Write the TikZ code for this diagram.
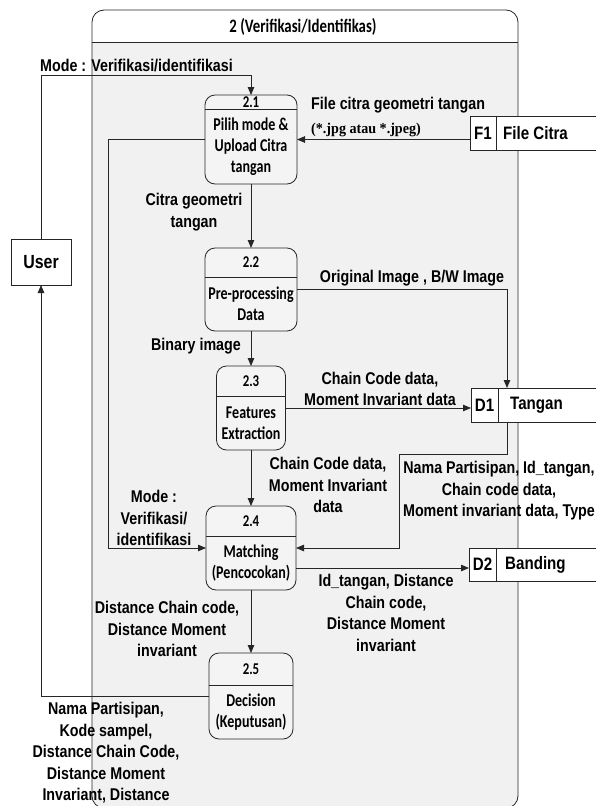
\documentclass[tikz,border=0pt]{standalone}
\usepackage{fontspec}
\setmainfont{Liberation Sans}
\newfontfamily\calfont[FakeStretch=0.78]{Carlito}
\newfontfamily\lblfont[FakeStretch=0.84]{Liberation Sans}
\newfontfamily\serifpart[FakeStretch=0.94]{Liberation Serif}
\usetikzlibrary{arrows.meta, positioning}
\definecolor{boxgray}{HTML}{F1F1F1}
\definecolor{procgray}{HTML}{F4F4F4}

\begin{document}
\begin{tikzpicture}[
    x=1pt, y=-1pt,
    line/.style={line width=0.8pt, draw=black!85},
    proc/.style={line, rounded corners=10pt, fill=procgray, inner sep=0pt, outer sep=0pt},
    num/.style={font=\calfont\bfseries\fontsize{16.5}{17}\selectfont, inner sep=0pt},
    ptext/.style={align=center, inner sep=0pt, font=\calfont\bfseries\fontsize{18}{21}\selectfont},
    store/.style={line, fill=white, minimum width=135pt, anchor=north west, inner sep=0pt, outer sep=0pt},
    stext/.style={font=\lblfont\bfseries\fontsize{18}{20}\selectfont, inner sep=0pt},
    lbl/.style={align=center, inner sep=0pt, font=\lblfont\bfseries\fontsize{17}{21.5}\selectfont},
    flow/.style={line, -{Triangle[length=8pt,width=6.5pt]}}
]
\useasboundingbox (0,0) rectangle (595,806);

% --- Process box 2 ---
\begin{scope}
\clip[rounded corners=12pt] (92,10) rectangle (518,808);
\fill[boxgray] (92,10) rectangle (518,808);
\fill[white] (92,10) rectangle (518,42);
\end{scope}
\draw[line, rounded corners=12pt] (92,10) rectangle (518,808);
\draw[line] (92,42) -- (518,42);
\node[font=\calfont\bfseries\fontsize{19}{20}\selectfont] (title) at (303,27) {2 (Verifikasi/Identifikas)};

% --- Sub-processes ---
\node[proc, minimum width=92pt, minimum height=89pt] (p21) at (251,139.5) {};
\node[proc, minimum width=92pt, minimum height=83pt, below=64pt of p21] (p22) {};
\node[proc, minimum width=69pt, minimum height=84pt, below=35pt of p22] (p23) {};
\node[proc, minimum width=90pt, minimum height=84pt, below=56pt of p23] (p24) {};
\node[proc, minimum width=84pt, minimum height=86pt, below=63pt of p24] (p25) {};

\draw[line] ([yshift=-14pt]p21.north west) -- ([yshift=-14pt]p21.north east);
\draw[line] ([yshift=-29pt]p22.north west) -- ([yshift=-29pt]p22.north east);
\draw[line] ([yshift=-30pt]p23.north west) -- ([yshift=-30pt]p23.north east);
\draw[line] ([yshift=-30pt]p24.north west) -- ([yshift=-30pt]p24.north east);
\draw[line] ([yshift=-32pt]p25.north west) -- ([yshift=-32pt]p25.north east);

\node[num] (n21) at ([yshift=-7pt]p21.north) {2.1};
\node[num] (n22) at ([yshift=-14.5pt]p22.north) {2.2};
\node[num] (n23) at ([yshift=-15pt]p23.north) {2.3};
\node[num] (n24) at ([yshift=-15pt]p24.north) {2.4};
\node[num] (n25) at ([yshift=-16pt]p25.north) {2.5};

\node[ptext] (t21) at ([yshift=37.5pt]p21.south) {Pilih mode \&\\Upload Citra\\tangan};
\node[ptext] (t22) at ([yshift=27pt]p22.south) {Pre-processing\\Data};
\node[ptext] (t23) at ([yshift=27pt]p23.south) {Features\\Extraction};
\node[ptext] (t24) at ([yshift=27pt]p24.south) {Matching\\(Pencocokan)};
\node[ptext] (t25) at ([yshift=27pt]p25.south) {Decision\\(Keputusan)};

% --- External entity and data stores ---
\node[line, fill=white, minimum width=60pt, minimum height=46pt, outer sep=0pt,
      font=\lblfont\bfseries\fontsize{19}{20}\selectfont] (user) at (41,262) {User};

\node[store, minimum height=34pt] (f1) at (470,116) {};
\node[store, minimum height=34pt] (d1) at (471,388) {};
\node[store, minimum height=33pt] (d2) at (469,548) {};
\draw[line] ([xshift=26pt]f1.north west) -- ([xshift=26pt]f1.south west);
\draw[line] ([xshift=27pt]d1.north west) -- ([xshift=27pt]d1.south west);
\draw[line] ([xshift=27pt]d2.north west) -- ([xshift=27pt]d2.south west);
\node[stext] (f1id) at ([xshift=13pt]f1.west) {F1};
\node[stext, anchor=west] (f1nm) at ([xshift=33pt]f1.west) {File Citra};
\node[stext] (d1id) at ([xshift=13.5pt]d1.west) {D1};
\node[stext, anchor=west] (d1nm) at ([xshift=39pt]d1.west) {Tangan};
\node[stext] (d2id) at ([xshift=13.5pt]d2.west) {D2};
\node[stext, anchor=west] (d2nm) at ([xshift=36pt]d2.west) {Banding};

% --- Flows ---
\coordinate (modeleft) at (108,139.5);
\coordinate (tanganturn) at (399,454);

\draw[flow] (user.north) |- ([yshift=20pt]p21.north) -- (p21.north);
\draw[flow] (f1.west |- p21.east) -- (p21.east);
\draw[flow] (p21.west) -- (modeleft) |- (p24.west);
\draw[flow] (p21.south) -- (p22.north);
\draw[flow] (p22.east) -| ([xshift=36pt]d1.north west);
\draw[flow] (p22.south) -- (p23.north);
\draw[flow] (p23.east) -- (p23.east -| d1.west);
\draw[flow] (p23.south) -- (p24.north);
\draw[flow] ([xshift=36pt]d1.south west) |- (tanganturn) |- (p24.east);
\draw[flow] ([yshift=-20pt]p24.east) -- ([yshift=-20pt]p24.east -| d2.west);
\draw[flow] (p24.south) -- (p25.north);
\draw[flow] (p25.west) -| (user.south);

% --- Flow labels ---
\node[lbl, anchor=base west] (lmode) at (40,71) {Mode : Verifikasi/identifikasi};
\node[lbl, anchor=base west] (lfile) at (311,109) {File citra geometri tangan};
\node[anchor=base west, inner sep=0pt, font=\serifpart\bfseries\fontsize{15}{17}\selectfont] (lext) at (311,133) {(*.jpg atau *.jpeg)};
\node[lbl] (lcitra) at (194,212) {Citra geometri\\tangan};
\node[lbl] (lbin) at (196,346) {Binary image};
\node[lbl] (lorig) at (412,278) {Original Image , B/W Image};
\node[lbl] (lcc1) at (380,389) {Chain Code data,\\Moment Invariant data};
\node[lbl] (lcc2) at (328,485) {Chain Code data,\\Moment Invariant\\data};
\node[lbl] (lmode2) at (154,518) {Mode :\\Verifikasi/\\identifikasi};
\node[lbl] (lnama) at (499,491) {Nama Partisipan, Id\_tangan,\\Chain code data,\\Moment invariant data, Type};
\node[lbl] (lid) at (386,613) {Id\_tangan, Distance\\Chain code,\\Distance Moment\\invariant};
\node[lbl] (ldist) at (167,629) {Distance Chain code,\\Distance Moment\\invariant};
\node[lbl] (lres) at (106,753) {Nama Partisipan,\\Kode sampel,\\Distance Chain Code,\\Distance Moment\\Invariant, Distance};

\end{tikzpicture}
\end{document}
